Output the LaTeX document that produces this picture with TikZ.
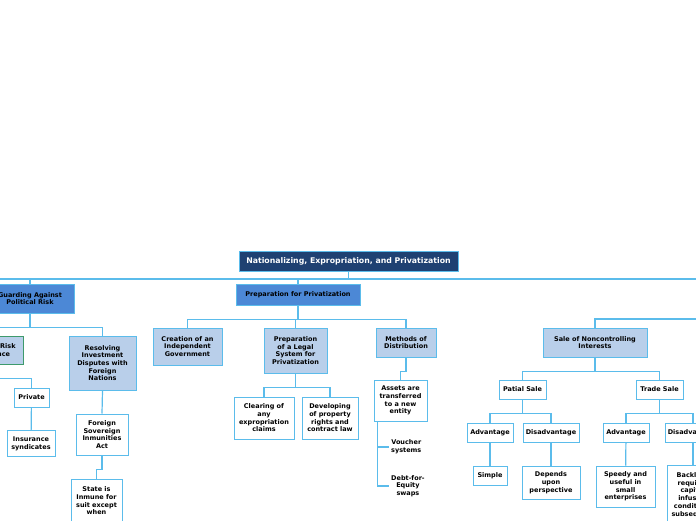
\documentclass[tikz,border=0pt]{standalone}
\usepackage{fontspec}
\setmainfont{DejaVu Sans}

\definecolor{navy}{HTML}{1F4172}
\definecolor{midblue}{HTML}{4C88D6}
\definecolor{paleblue}{HTML}{B9CFEA}
\definecolor{edge}{HTML}{5BBCEB}
\definecolor{riskgreen}{HTML}{3E9A6C}

\tikzset{
  topic/.style={draw=edge, line width=1pt, align=center, inner sep=1pt,
    font=\bfseries\fontsize{6.5}{7.7}\selectfont},
  wh/.style 2 args={minimum width=#1pt, minimum height=#2pt},
  rootbox/.style={topic, fill=navy, text=white, font=\bfseries\fontsize{7.8}{9}\selectfont},
  mainbox/.style={topic, fill=midblue},
  subbox/.style={topic, fill=paleblue},
  leafbox/.style={topic, fill=white},
  plaintext/.style={align=center, inner sep=2pt, font=\bfseries\fontsize{6.5}{7.7}\selectfont},
  link/.style={draw=edge, line width=1.2pt},
}

\begin{document}
\begin{tikzpicture}[x=1pt,y=-1pt]
  \clip (0,0) rectangle (696,520);

  % central topic and main topics
  \node[rootbox, wh={219}{20}] (root) at (348.5,261) {Nationalizing, Expropriation, and Privatization};
  \node[mainbox, wh={88}{29}] (guard) at (30,298.5) {Guarding Against\\Political Risk};
  \node[mainbox, wh={124}{21}] (prep) at (298,294.5) {Preparation for Privatization};

  % guarding against political risk
  \node[subbox, draw=riskgreen, wh={62}{28}] (risk) at (-8,350) {Political Risk\\Insurance};
  \node[subbox, wh={67}{54}] (resolve) at (102.5,363) {Resolving\\Investment\\Disputes with\\Foreign\\Nations};
  \node[leafbox, wh={35}{19}] (private) at (31.5,397.5) {Private};
  \node[leafbox, wh={48}{26}] (insur) at (31,443.5) {Insurance\\syndicates};
  \node[leafbox, wh={52}{41}] (fsia) at (102,434.5) {Foreign\\Sovereign\\Inmunities\\Act};
  \node[leafbox, wh={51}{44}] (state) at (96.5,501) {State is\\Inmune for\\suit except\\when};

  % preparation for privatization
  \node[subbox, wh={69}{37}] (creation) at (187.5,346.5) {Creation of an\\Independent\\Government};
  \node[subbox, wh={63}{45}] (legal) at (295.5,350.5) {Preparation\\of a Legal\\System for\\Privatization};
  \node[subbox, wh={60}{29}] (methods) at (406,342.5) {Methods of\\Distribution};
  \node[leafbox, wh={60}{42}] (clearing) at (264,418) {Clearing of\\any\\expropriation\\claims};
  \node[leafbox, wh={56}{42}] (develop) at (330,418) {Developing\\of property\\rights and\\contract law};
  \node[leafbox, wh={53}{41}] (assets) at (400.5,400.5) {Assets are\\transferred\\to a new\\entity};
  \node[plaintext, anchor=west] (voucher) at (389,447) {Voucher\\systems};
  \node[plaintext, anchor=west] (debt) at (389,486) {Debt-for-\\Equity\\swaps};

  % sale of noncontrolling interests
  \node[subbox, wh={104}{29}] (sale) at (595,342.5) {Sale of Noncontrolling\\Interests};
  \node[leafbox, wh={47}{19}] (patial) at (522.5,389.5) {Patial Sale};
  \node[leafbox, wh={47}{19}] (trade) at (659.5,389.5) {Trade Sale};
  \node[leafbox, wh={46}{19}] (adv1) at (490,432.5) {Advantage};
  \node[leafbox, wh={56}{19}] (dis1) at (551,432.5) {Disadvantage};
  \node[leafbox, wh={46}{19}] (adv2) at (626,432.5) {Advantage};
  \node[leafbox, wh={56}{19}] (dis2) at (693,432.5) {Disadvantage};
  \node[leafbox, wh={34}{19}] (simple) at (490,475.5) {Simple};
  \node[leafbox, wh={58}{33}] (depends) at (551,482.5) {Depends\\upon\\perspective};
  \node[leafbox, wh={59}{41}] (speedy) at (625.5,486.5) {Speedy and\\useful in\\small\\enterprises};
  \node[leafbox, wh={52}{60}] (backl) at (693,495) {Backlash\\requires\\capital\\infusion\\conditions\\subsequent};

  % free ends of the lines that run off the page
  \coordinate (busL) at (-30,279);
  \coordinate (busR) at (730,279);
  \coordinate (saleR) at (730,319);

  % connectors
  \draw[link] (busL) -- (busR);
  \draw[link] (root.south) -- (root.south |- busL);
  \draw[link] (guard.north) -- (guard.north |- busL);
  \draw[link] (prep.north) -- (prep.north |- busL);
  \draw[link] (sale.north) |- (saleR);

  \draw[link] (guard.south) -- ++(0,14) -| (risk.north);
  \draw[link] (guard.south) -- ++(0,14) -| (resolve.north);
  \draw[link] (risk.south) -- ++(0,14) -| (private.north);
  \draw[link] (private) -- (insur);
  \draw[link] (resolve.south) -- (fsia.north);
  \draw[link] (fsia.south) -- ++(0,14) -| (state.north);

  \draw[link] (prep.south) -- ++(0,14) -| (creation.north);
  \draw[link] (prep.south) -- ++(0,14) -| (legal.north);
  \draw[link] (prep.south) -- ++(0,14) -| (methods.north);
  \draw[link] (legal.south) -- ++(0,14) -| (clearing.north);
  \draw[link] (legal.south) -- ++(0,14) -| (develop.north);
  \draw[link] (methods.south) -- ++(0,14) -| (assets.north);
  \draw[link] ([xshift=4pt]assets.south west) |- (voucher.west);
  \draw[link] ([xshift=4pt]assets.south west) |- (debt.west);

  \draw[link] (sale.south) -- ++(0,14) -| (patial.north);
  \draw[link] (sale.south) -- ++(0,14) -| (trade.north);
  \draw[link] (patial.south) -- ++(0,14) -| (adv1.north);
  \draw[link] (patial.south) -- ++(0,14) -| (dis1.north);
  \draw[link] (trade.south) -- ++(0,14) -| (adv2.north);
  \draw[link] (trade.south) -- ++(0,14) -| (dis2.north);
  \draw[link] (adv1) -- (simple);
  \draw[link] (dis1) -- (depends);
  \draw[link] (adv2) -- (speedy);
  \draw[link] (dis2) -- (backl);
\end{tikzpicture}
\end{document}
